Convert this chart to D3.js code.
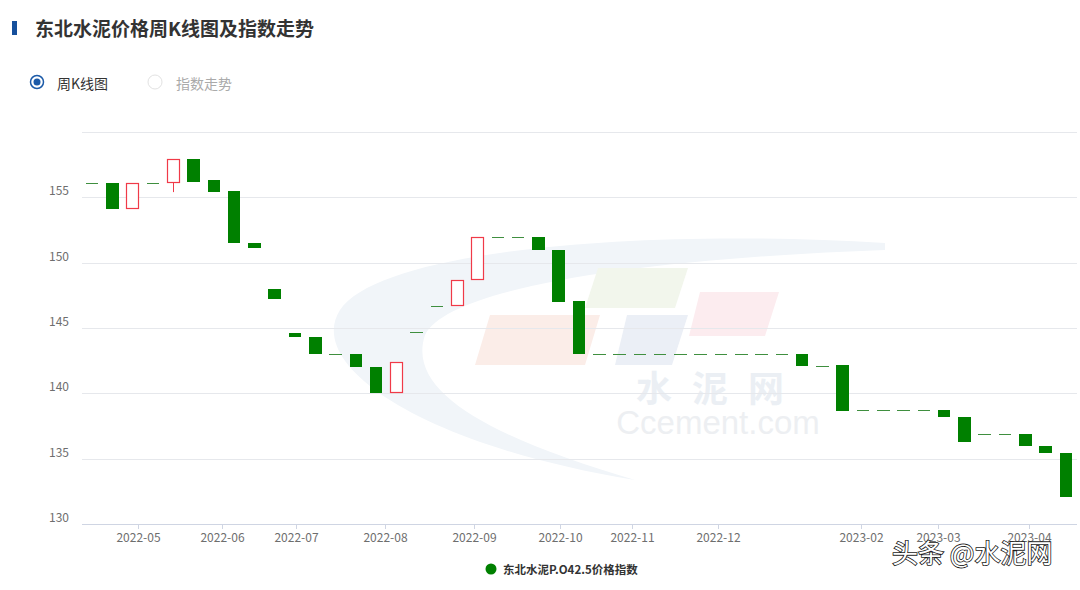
<!DOCTYPE html>
<html>
<head>
<meta charset="utf-8">
<script src="https://cdn.jsdelivr.net/npm/d3@7"></script>
<style>
  html, body { margin: 0; padding: 0; background: #fff; }
  svg { display: block; font-family: "Noto Sans CJK SC", "Noto Sans", sans-serif; }
</style>
</head>
<body>
<svg id="chart" width="1080" height="590"></svg>
<script>
  'use strict';

  // weekly candles
  var openVals = [
    156.1, 156.1, 154.1, 156.1, 156.1, 157.9, 156.3, 155.45, 151.5, 148.0,
    144.6, 144.3, 143.0, 143.0, 142.05, 140.0, 144.7, 146.65, 146.65, 148.7,
    152.0, 152.0, 152.0, 151.0, 147.05, 143.0, 143.0, 143.0, 143.0, 143.0,
    143.0, 143.0, 143.0, 143.0, 143.0, 143.0, 142.1, 142.2, 138.7, 138.7,
    138.7, 138.7, 138.7, 138.2, 136.9, 136.9, 136.9, 136.0, 135.45
  ];
  var closeVals = [
    156.1, 154.1, 156.1, 156.1, 157.9, 156.2, 155.4, 151.5, 151.1, 147.2,
    144.3, 143.0, 143.0, 142.05, 140.0, 142.4, 144.7, 146.65, 148.7, 152.0,
    152.0, 152.0, 151.0, 147.0, 143.0, 143.0, 143.0, 143.0, 143.0, 143.0,
    143.0, 143.0, 143.0, 143.0, 143.0, 142.1, 142.1, 138.65, 138.7, 138.7,
    138.7, 138.7, 138.2, 136.3, 136.9, 136.9, 136.0, 135.45, 132.1
  ];
  // only one week has a visible shadow
  var lowVals = closeVals.map(function(c, i) { return i === 4 ? 155.4 : Math.min(c, openVals[i]); });

  var yTicks = [130, 135, 140, 145, 150, 155, 160];
  var yLabels = [130, 135, 140, 145, 150, 155];
  var monthLabels = ['2022-05', '2022-06', '2022-07', '2022-08', '2022-09', '2022-10',
    '2022-11', '2022-12', '2023-02', '2023-03', '2023-04'];
  // where each month starts, in weeks from the first candle
  var monthAt = [2.28, 6.39, 10.03, 14.43, 18.83, 23.05, 26.59, 30.85, 37.88, 41.69, 46.16];

  var seriesName = '东北水泥P.O42.5价格指数';
  var colors = { up: '#f03a48', down: '#008000', grid: '#e6e8ec', axis: '#cfd5e3', text: '#6e6e6e' };

  var svg = d3.select('#chart');
  svg.append('rect').attr('width', 1080).attr('height', 590).attr('fill', '#fff');

  var grid = { left: 82, right: 1076, top: 132, bottom: 524 };
  var n = openVals.length;

  var x = d3.scaleLinear().domain([-0.5, n - 0.5]).range([grid.left, grid.right]);
  var y = d3.scaleLinear().domain([130, 160]).range([grid.bottom, grid.top]);
  var bodyW = (x(1) - x(0)) * 0.62;

  // title + radio switch
  svg.append('rect').attr('x', 12).attr('y', 21).attr('width', 5).attr('height', 14).attr('fill', '#16509c');
  svg.append('text').attr('x', 35).attr('y', 35.5)
    .attr('font-size', 19).attr('font-weight', 'bold').attr('fill', '#333')
    .text('东北水泥价格周K线图及指数走势');

  svg.append('circle').attr('cx', 37).attr('cy', 82).attr('r', 6.5)
    .attr('fill', '#fff').attr('stroke', '#1b5aa8').attr('stroke-width', 1.5);
  svg.append('circle').attr('cx', 37).attr('cy', 82).attr('r', 3.5).attr('fill', '#1b5aa8');
  svg.append('text').attr('x', 57).attr('y', 88.5).attr('font-size', 14).attr('fill', '#333').text('周K线图');
  svg.append('circle').attr('cx', 155).attr('cy', 82).attr('r', 7)
    .attr('fill', '#fff').attr('stroke', '#e2e2e2').attr('stroke-width', 1);
  svg.append('text').attr('x', 176).attr('y', 88.5).attr('font-size', 14).attr('fill', '#aaa').text('指数走势');

  // faint site watermark behind the plot
  var wm = svg.append('g').attr('class', 'watermark');
  wm.append('path')
    .attr('d', 'M 885 243 C 640 228, 380 250, 340 310 C 305 365, 420 445, 635 480 ' +
      'C 500 440, 405 395, 425 335 C 450 285, 660 258, 885 250 Z')
    .attr('fill', '#f1f5f9');
  [
    { pts: [[490, 315], [600, 315], [585, 365], [475, 365]], c: '#fbede8' },
    { pts: [[598, 268], [688, 268], [675, 308], [585, 308]], c: '#f2f6ec' },
    { pts: [[627, 315], [688, 315], [672, 365], [615, 365]], c: '#ebeff6' },
    { pts: [[700, 292], [779, 292], [765, 336], [689, 336]], c: '#fcecef' }
  ].forEach(function(p) {
    wm.append('polygon').attr('points', p.pts.join(' ')).attr('fill', p.c);
  });
  wm.append('text').attr('x', 720).attr('y', 402).attr('text-anchor', 'middle')
    .attr('font-size', 36).attr('font-weight', 'bold').attr('fill', '#ebeff4')
    .attr('letter-spacing', 20).text('水泥网');
  wm.append('text').attr('x', 718).attr('y', 434).attr('text-anchor', 'middle')
    .attr('font-family', 'Arial, "Liberation Sans", sans-serif')
    .attr('font-size', 33).attr('fill', '#edeff2').text('Ccement.com');

  // horizontal grid
  svg.append('g').selectAll('line').data(yTicks.filter(function(t) { return t > 130; }))
    .enter().append('line')
    .attr('x1', grid.left).attr('x2', grid.right + 1)
    .attr('y1', function(d) { return Math.round(y(d)) + 0.5; })
    .attr('y2', function(d) { return Math.round(y(d)) + 0.5; })
    .attr('stroke', colors.grid).attr('stroke-width', 1);

  svg.append('g').selectAll('text').data(yLabels).enter().append('text')
    .attr('x', 69).attr('y', function(d) { return y(d) - 2; })
    .attr('text-anchor', 'end').attr('font-size', 12).attr('fill', colors.text)
    .text(function(d) { return d; });

  // x axis
  var xAxis = svg.append('g');
  xAxis.append('line')
    .attr('x1', grid.left).attr('x2', grid.right + 1)
    .attr('y1', grid.bottom + 0.5).attr('y2', grid.bottom + 0.5)
    .attr('stroke', colors.axis);
  monthAt.forEach(function(w, i) {
    var tx = Math.round(x(w)) + 0.5;
    xAxis.append('line').attr('x1', tx).attr('x2', tx)
      .attr('y1', grid.bottom).attr('y2', grid.bottom + 5).attr('stroke', colors.axis);
    xAxis.append('text').attr('x', tx).attr('y', grid.bottom + 18)
      .attr('text-anchor', 'middle').attr('font-size', 12).attr('fill', colors.text)
      .text(monthLabels[i]);
  });

  // candles
  var candles = svg.append('g').selectAll('g').data(d3.range(n)).enter().append('g');

  candles.each(function(i) {
    var g = d3.select(this);
    var o = openVals[i], c = closeVals[i];
    var cx = x(i);
    var x0 = Math.round(cx - bodyW / 2), x1 = Math.round(cx + bodyW / 2);
    var top = y(Math.max(o, c)), bot = y(Math.min(o, c));

    if (o === c) {
      g.append('line').attr('x1', x0).attr('x2', x1)
        .attr('y1', Math.round(top) + 0.5).attr('y2', Math.round(top) + 0.5)
        .attr('stroke', '#3f8f3f').attr('stroke-width', 1);
      return;
    }

    var rising = c > o;
    var col = rising ? colors.up : colors.down;

    if (lowVals[i] < Math.min(o, c)) {
      g.append('line').attr('x1', Math.round(cx) + 0.5).attr('x2', Math.round(cx) + 0.5)
        .attr('y1', bot).attr('y2', y(lowVals[i]))
        .attr('stroke', col).attr('stroke-width', 1);
    }

    if (rising) {
      g.append('rect').attr('x', x0 + 0.5).attr('y', Math.round(top) + 0.5)
        .attr('width', x1 - x0 - 1).attr('height', Math.max(1, Math.round(bot) - Math.round(top) - 1))
        .attr('fill', '#fff').attr('stroke', col).attr('stroke-width', 1.2);
    } else {
      g.append('rect').attr('x', x0).attr('y', Math.round(top))
        .attr('width', x1 - x0).attr('height', Math.max(1, Math.round(bot) - Math.round(top)))
        .attr('fill', col);
    }
  });

  // legend
  var legend = svg.append('g');
  legend.append('circle').attr('cx', 491).attr('cy', 569).attr('r', 5.5).attr('fill', colors.down);
  legend.append('text').attr('x', 503).attr('y', 573.5)
    .attr('font-size', 11.5).attr('font-weight', 'bold').attr('fill', '#333')
    .text(seriesName);

  // repost watermark
  svg.append('text').attr('x', 892).attr('y', 563)
    .attr('font-size', 26).attr('fill', '#fff')
    .attr('stroke', '#1a1a1a').attr('stroke-width', 1.6).attr('paint-order', 'stroke')
    .text('头条 @水泥网');
</script>
</body>
</html>
